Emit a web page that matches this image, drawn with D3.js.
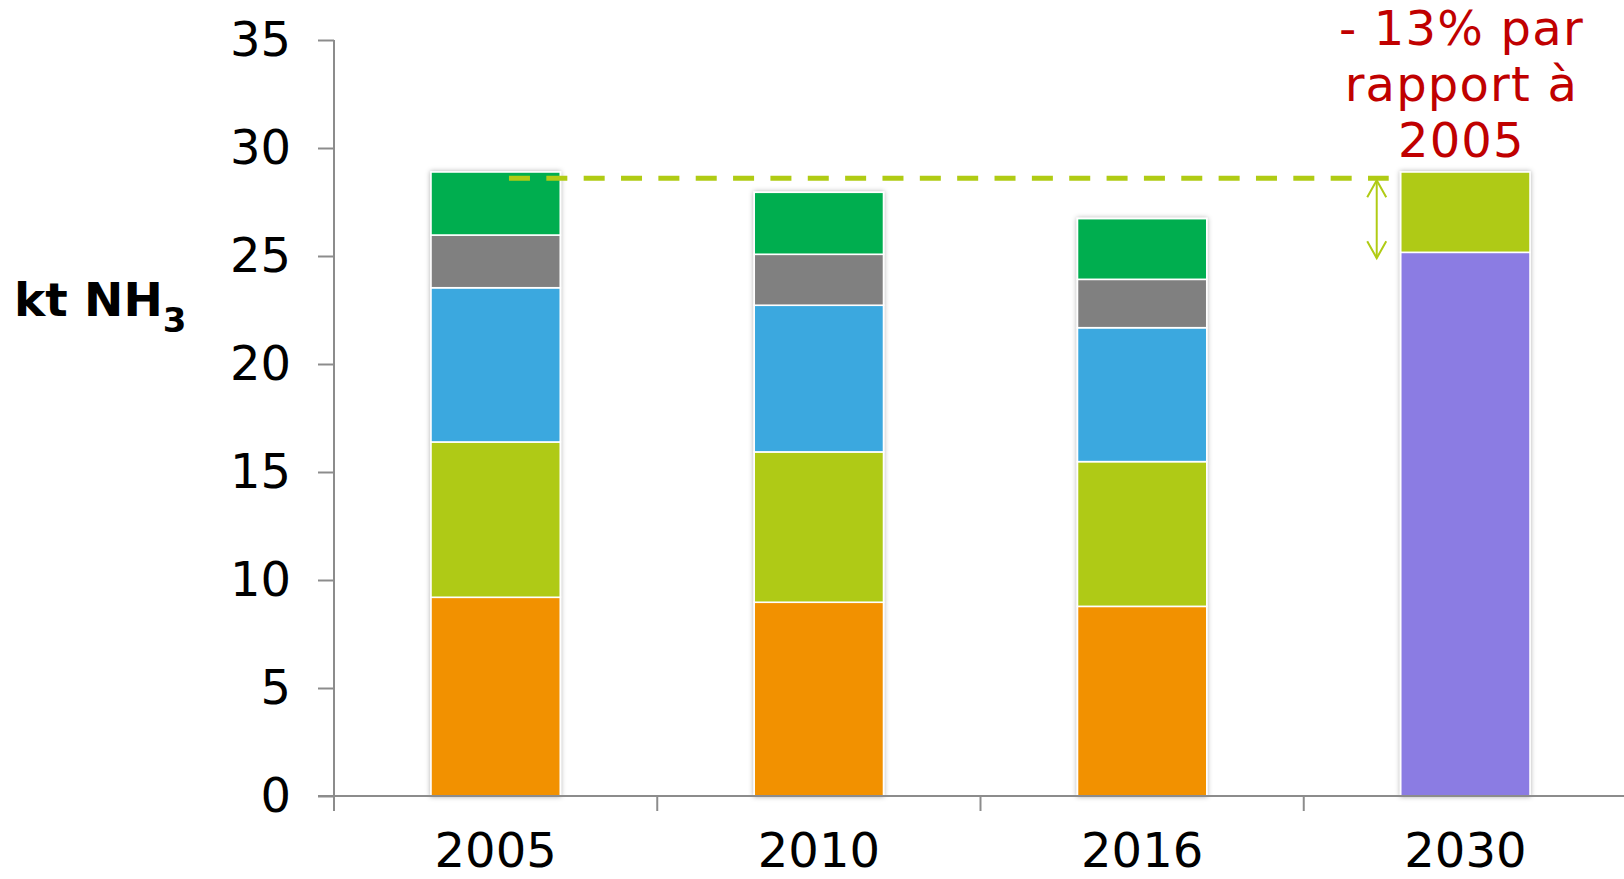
<!DOCTYPE html>
<html>
<head>
<meta charset="utf-8">
<script src="https://cdn.jsdelivr.net/npm/d3@7"></script>
<style>
  html, body { margin: 0; padding: 0; background: #fff; }
  svg { display: block; font-family: "DejaVu Sans", Verdana, sans-serif; }
</style>
</head>
<body>
<svg id="chart" width="1624" height="879"></svg>
<script>
// Ammonia emissions (kt NH3) by year, stacked by source
const years = ["2005", "2010", "2016", "2030"];
const seriesKeys = ["s1", "s2", "s3", "s4", "s5", "target", "reduction"];
const seriesColors = ["#F29100", "#AFCA14", "#3AA8DF", "#808080", "#00AE50", "#8B7BE3", "#AFCA14"];
const s1 = [9.20, 8.97, 8.78, 0];
const s2 = [7.19, 6.96, 6.70, 0];
const s3 = [7.14, 6.79, 6.20, 0];
const s4 = [2.44, 2.36, 2.24, 0];
const s5 = [2.92, 2.87, 2.81, 0];
const target = [0, 0, 0, 25.17];
const reduction = [0, 0, 0, 3.72];
const yTicks = [0, 5, 10, 15, 20, 25, 30, 35];
const refLevel = 28.6;      // 2005 reference level (dashed line)
const arrowBottom = 24.9;   // lower end of the reduction arrow
const noteLines = ["- 13% par", "rapport à", "2005"];
const yTitle = "kt NH";
const yTitleSub = "3";

const rows = years.map((y, i) => ({
  year: y, s1: s1[i], s2: s2[i], s3: s3[i], s4: s4[i], s5: s5[i],
  target: target[i], reduction: reduction[i]
}));

const svg = d3.select("#chart");
const axisColor = "#8C8C8C";
const fontSize = 48;

const x = d3.scaleBand().domain(years).range([334, 1627]).paddingInner(0.6).paddingOuter(0.3);
const y = d3.scaleLinear().domain([0, 35]).range([796, 40]);

// soft shadow round the bars
const defs = svg.append("defs");
const f = defs.append("filter").attr("id", "shadow").attr("x", "-20%").attr("y", "-20%").attr("width", "140%").attr("height", "140%");
f.append("feDropShadow").attr("dx", 0).attr("dy", 0).attr("stdDeviation", 2.4)
  .attr("flood-color", "#000").attr("flood-opacity", 0.32);

// stacked bars
const stack = d3.stack().keys(seriesKeys);
const layers = stack(rows);
const barG = svg.append("g").attr("filter", "url(#shadow)");
layers.forEach((layer, li) => {
  barG.append("g")
    .selectAll("rect")
    .data(layer.filter(d => d[1] - d[0] > 0))
    .join("rect")
    .attr("x", d => x(d.data.year))
    .attr("width", x.bandwidth())
    .attr("y", d => y(d[1]))
    .attr("height", d => y(d[0]) - y(d[1]))
    .attr("fill", seriesColors[li])
    .attr("stroke", "#fff")
    .attr("stroke-width", 1.6);
});

// y axis
const yAxis = d3.axisLeft(y).tickValues(yTicks).tickSize(16).tickSizeOuter(0).tickPadding(27);
const yg = svg.append("g").attr("transform", "translate(334,0)").call(yAxis);
yg.select(".domain").remove();
yg.selectAll(".tick line").attr("stroke", axisColor).attr("stroke-width", 2);
yg.selectAll(".tick text").attr("font-size", fontSize).attr("fill", "#000")
  .attr("font-family", "DejaVu Sans, Verdana, sans-serif").attr("dy", "0.33em");
svg.append("line").attr("x1", 334).attr("x2", 334).attr("y1", y(35)).attr("y2", y(0) + 15)
  .attr("stroke", axisColor).attr("stroke-width", 2);

// x axis line and category separators
svg.append("line").attr("x1", 318).attr("x2", 1624).attr("y1", y(0)).attr("y2", y(0))
  .attr("stroke", axisColor).attr("stroke-width", 2);
const bounds = years.map((d, i) => x.range()[0] + i * x.step());
svg.append("g").selectAll("line").data(bounds).join("line")
  .attr("x1", d => d).attr("x2", d => d).attr("y1", y(0)).attr("y2", y(0) + 15)
  .attr("stroke", axisColor).attr("stroke-width", 2);
svg.append("g").selectAll("text").data(years).join("text")
  .attr("x", d => x(d) + x.bandwidth() / 2)
  .attr("y", 867)
  .attr("text-anchor", "middle")
  .attr("font-size", fontSize)
  .attr("fill", "#000")
  .text(d => d);

// y axis title
const yt = svg.append("text").attr("x", 14).attr("y", 316)
  .attr("font-size", 47).attr("font-weight", "bold").attr("fill", "#000");
yt.append("tspan").text(yTitle);
yt.append("tspan").attr("font-size", 34).attr("dy", 16).text(yTitleSub);

// dashed reference line at the 2005 level
const lineColor = "#B0CB14";
svg.append("line")
  .attr("x1", x("2005") + 78).attr("x2", x("2030") - 12)
  .attr("y1", y(refLevel)).attr("y2", y(refLevel))
  .attr("stroke", lineColor).attr("stroke-width", 5)
  .attr("stroke-dasharray", "21 16.35");

// double-headed arrow showing the reduction
const ax = x("2030") - 24;
const yTop = y(refLevel) + 2, yBot = y(arrowBottom);
const arrow = svg.append("g").attr("stroke", lineColor).attr("stroke-width", 2).attr("fill", "none");
arrow.append("line").attr("x1", ax).attr("x2", ax).attr("y1", yTop).attr("y2", yBot);
arrow.append("path").attr("d", `M${ax - 9.5},${yTop + 17} L${ax},${yTop} L${ax + 9.5},${yTop + 17}`);
arrow.append("path").attr("d", `M${ax - 9.5},${yBot - 17} L${ax},${yBot} L${ax + 9.5},${yBot - 17}`);

// annotation above the 2030 bar
const note = svg.append("text").attr("text-anchor", "middle").attr("font-size", 48)
  .attr("letter-spacing", 1.2).attr("fill", "#C00000");
noteLines.forEach((t, i) => {
  note.append("tspan").attr("x", x("2030") + x.bandwidth() / 2 - 4).attr("y", 45 + i * 55.8).text(t);
});
</script>
</body>
</html>
